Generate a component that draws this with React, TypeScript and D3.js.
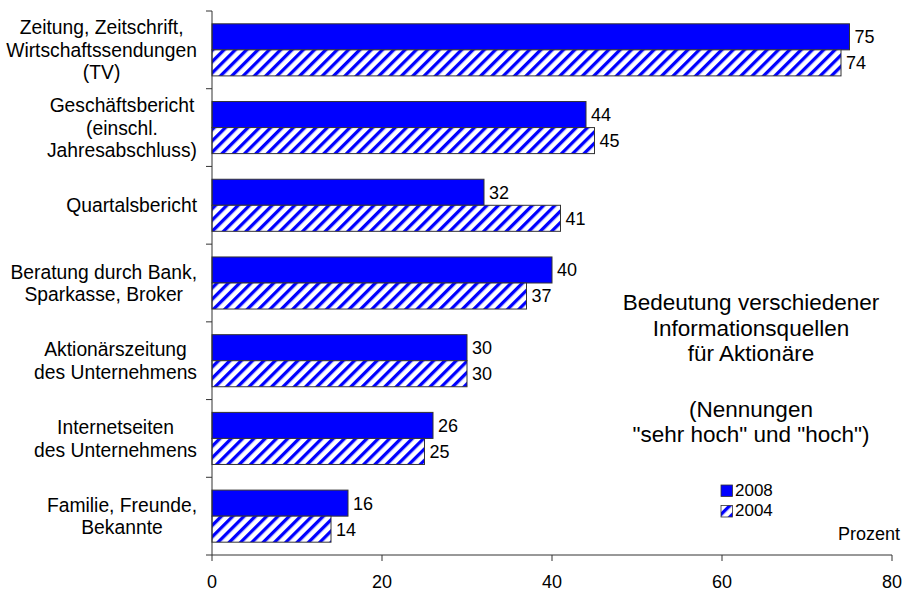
import React, { useEffect, useRef } from "react";
import * as d3 from "d3";

const categories = [
  "Zeitung, Zeitschrift,\nWirtschaftssendungen\n(TV)",
  "Geschäftsbericht\n(einschl.\nJahresabschluss)",
  "Quartalsbericht",
  "Beratung durch Bank,\nSparkasse, Broker",
  "Aktionärszeitung\ndes Unternehmens",
  "Internetseiten\ndes Unternehmens",
  "Familie, Freunde,\nBekannte",
];
const values2008 = [75, 44, 32, 40, 30, 26, 16];
const values2004 = [74, 45, 41, 37, 30, 25, 14];
const xTicks = [0, 20, 40, 60, 80];
const seriesNames = ["2008", "2004"];
const titleLines = [
  "Bedeutung verschiedener",
  "Informationsquellen",
  "für Aktionäre",
  "",
  "(Nennungen",
  "\"sehr hoch\" und \"hoch\")",
];
const unitLabel = "Prozent";

const W = 903;
const H = 592;
const FONT = "'Liberation Sans', Arial, sans-serif";
const FS = 18;
const BLUE = "#0000ff";
const AXIS = "#333333";

export default function App() {
  const ref = useRef<SVGSVGElement | null>(null);

  useEffect(() => {
    document.body.style.margin = "0";
    const svg = d3.select(ref.current);
    svg.selectAll("*").remove();

    const defs = svg.append("defs");
    const pat = defs
      .append("pattern")
      .attr("id", "hatch")
      .attr("patternUnits", "userSpaceOnUse")
      .attr("width", 8)
      .attr("height", 8)
      .attr("patternTransform", "rotate(45)");
    pat.append("rect").attr("width", 8).attr("height", 8).attr("fill", "#fff");
    pat.append("rect").attr("x", 0).attr("width", 3.3).attr("height", 8).attr("fill", BLUE);

    const x = d3.scaleLinear().domain([0, 80]).range([212, 892]);
    const y = d3.scaleBand<string>().domain(categories).range([11, 555]).padding(0);
    const bw = y.bandwidth();
    const barH = bw * 0.335;
    const off = (bw - 2 * barH) / 2;

    const g = svg.append("g").attr("font-family", FONT).attr("font-size", FS);

    // bars
    categories.forEach((c, i) => {
      const y0 = (y(c) as number) + off;
      const rows = [
        { v: values2008[i], fill: BLUE, yy: y0 },
        { v: values2004[i], fill: "url(#hatch)", yy: y0 + barH },
      ];
      rows.forEach((r) => {
        g.append("rect")
          .attr("x", x(0))
          .attr("y", r.yy)
          .attr("width", x(r.v) - x(0))
          .attr("height", barH)
          .attr("fill", r.fill)
          .attr("stroke", AXIS)
          .attr("stroke-width", 1);
        g.append("text")
          .attr("x", x(r.v) + 5)
          .attr("y", r.yy + barH / 2)
          .attr("dy", "0.36em")
          .attr("fill", "#000")
          .text(String(r.v));
      });
    });

    // y axis
    g.append("line")
      .attr("x1", x(0)).attr("x2", x(0))
      .attr("y1", 11).attr("y2", 555)
      .attr("stroke", AXIS).attr("stroke-width", 1);
    for (let i = 0; i <= categories.length; i++) {
      const yy = 11 + i * bw;
      g.append("line")
        .attr("x1", x(0) - 6).attr("x2", x(0))
        .attr("y1", yy).attr("y2", yy)
        .attr("stroke", AXIS).attr("stroke-width", 1);
    }

    // x axis
    g.append("line")
      .attr("x1", x(0)).attr("x2", x(80))
      .attr("y1", 555).attr("y2", 555)
      .attr("stroke", AXIS).attr("stroke-width", 1);
    xTicks.forEach((t) => {
      g.append("line")
        .attr("x1", x(t)).attr("x2", x(t))
        .attr("y1", 555).attr("y2", 561)
        .attr("stroke", AXIS).attr("stroke-width", 1);
      g.append("text")
        .attr("x", x(t))
        .attr("y", 588)
        .attr("text-anchor", "middle")
        .text(String(t));
    });

    // category labels (centered blocks, right edge at 196)
    const lh = 22.5;
    categories.forEach((c) => {
      const lines = c.split("\n");
      const t = g.append("text").attr("text-anchor", "middle").attr("font-size", 19.3);
      const cy = (y(c) as number) + bw / 2;
      const ts = lines.map((ln, k) =>
        t.append("tspan")
          .attr("y", cy - ((lines.length - 1) / 2) * lh + k * lh)
          .attr("dy", "0.36em")
          .text(ln)
      );
      let maxW = 0;
      ts.forEach((s) => {
        const n = s.node() as SVGTextContentElement;
        maxW = Math.max(maxW, n.getComputedTextLength());
      });
      const cx = 197 - maxW / 2;
      ts.forEach((s) => s.attr("x", cx));
    });

    // title
    const titleY = [310, 335.5, 361, 0, 416.5, 442];
    titleLines.forEach((ln, k) => {
      if (!ln) return;
      g.append("text")
        .attr("x", 751)
        .attr("y", titleY[k])
        .attr("text-anchor", "middle")
        .attr("font-size", 22.5)
        .text(ln);
    });

    // legend
    const legY = [485, 505.5];
    seriesNames.forEach((s, k) => {
      g.append("rect")
        .attr("x", 721).attr("y", legY[k])
        .attr("width", 11.5).attr("height", 11.5)
        .attr("fill", k === 0 ? BLUE : "url(#hatch)")
        .attr("stroke", AXIS).attr("stroke-width", 0.8);
      g.append("text")
        .attr("x", 735)
        .attr("y", legY[k] + 10.5)
        .attr("font-size", 17)
        .text(s);
    });

    g.append("text")
      .attr("x", 900)
      .attr("y", 540)
      .attr("text-anchor", "end")
      .text(unitLabel);
  }, []);

  return (
    <svg ref={ref} width={W} height={H} style={{ display: "block", background: "#fff" }} />
  );
}
